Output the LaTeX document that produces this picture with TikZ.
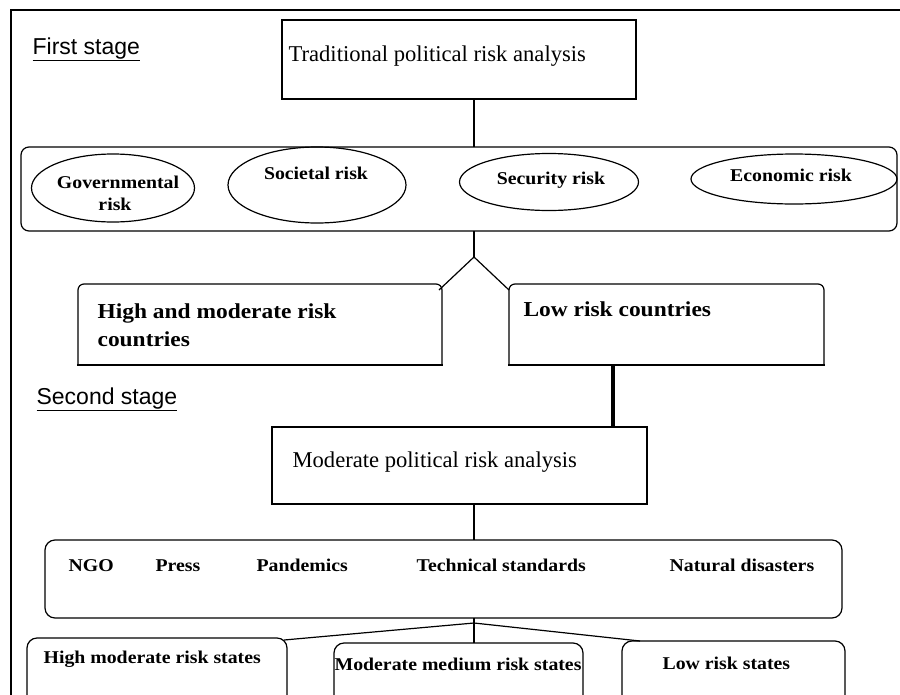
\documentclass[tikz,border=0pt]{standalone}
\usepackage{fontspec}
\setmainfont{Liberation Serif}
\setsansfont{Liberation Sans}
\newfontfamily\bsf[FakeStretch=1.1]{Liberation Serif}
\usetikzlibrary{shapes.geometric,calc}
\begin{document}
\begin{tikzpicture}[x=1pt,y=-1pt,
  line width=1.2pt,
  box/.style={draw, rectangle, inner sep=0pt, outer sep=0pt, anchor=north west},
  plainbox/.style={rectangle, inner sep=0pt, outer sep=0pt, anchor=north west},
  oval/.style={draw, ellipse, inner sep=0pt, outer sep=0pt},
  stagelbl/.style={anchor=base west, inner sep=0pt, font=\sffamily\fontsize{23}{26}\selectfont},
  reglbl/.style={anchor=base west, inner sep=0pt, font=\rmfamily\fontsize{22.6}{25}\selectfont},
  biglbl/.style={anchor=base west, inner sep=0pt, font=\bsf\bfseries\fontsize{21.3}{24}\selectfont},
  smllbl/.style={anchor=base, inner sep=0pt, font=\bsf\bfseries\fontsize{18}{21}\selectfont},
  smlw/.style={anchor=base west, inner sep=0pt, font=\bsf\bfseries\fontsize{18}{21}\selectfont},
  conn/.style={draw, line width=1.2pt},
  thickconn/.style={draw, line width=4.5pt}
]
\useasboundingbox (0,0) rectangle (900,694);
\fill[white] (0,0) rectangle (900,694);
% outer frame
\draw[line width=1.3pt] (11,720) -- (11,10) -- (920,10);

% labels of stages
\node[stagelbl] (s1) at (32,54) {\underline{First stage}};
\node[stagelbl] (s2) at (36,404) {\underline{Second stage}};

% first stage
\node[box, minimum width=354pt, minimum height=79pt] (trad) at (282,20) {};
\node[reglbl] (tradt) at (288,61) {Traditional political risk analysis};

\node[box, rounded corners=8pt, minimum width=876pt, minimum height=84pt] (grp) at (21,147) {};
\node[oval, minimum width=163pt, minimum height=68pt] (gov) at (113,188) {};
\node[oval, minimum width=178pt, minimum height=76pt] (soc) at (317,185) {};
\node[oval, minimum width=179pt, minimum height=57pt] (sec) at (549,182) {};
\node[oval, minimum width=206pt, minimum height=50pt] (eco) at (794,179) {};
\node[smllbl] (govt1) at (118,188) {Governmental};
\node[smllbl] (govt2) at (115,210) {risk};
\node[smllbl] (soct) at (316,179) {Societal risk};
\node[smllbl] (sect) at (551,184) {Security risk};
\node[smllbl] (ecot) at (791,181) {Economic risk};

\coordinate (cx) at (474,0);
\coordinate (br1) at (474,257);
\coordinate (thx) at (613,0);

\node[plainbox, minimum width=364pt, minimum height=81pt] (hm) at (78,284) {};
\node[plainbox, minimum width=315pt, minimum height=81pt] (low) at (509,284) {};
\draw[rounded corners=6pt] (hm.south west) -- (hm.north west) -- (hm.north east) -- (hm.south east);
\draw[line cap=rect] (hm.south west) -- (hm.south east);
\draw[rounded corners=6pt] (low.south west) -- (low.north west) -- (low.north east) -- (low.south east);
\draw[line cap=rect] (low.south west) -- (low.south east);
\node[biglbl] (hmt1) at (97,318) {High and moderate risk};
\node[biglbl] (hmt2) at (97,346) {countries};
\node[biglbl] (lowt) at (523,316) {Low risk countries};

\draw[conn] (trad.south -| cx) -- (grp.north -| cx);
\draw[conn] (grp.south -| cx) -- (br1);
\draw[conn] (br1) -- ($(hm.north east)+(-3,6)$);
\draw[conn] (br1) -- ($(low.north west)+(0,6)$);

% second stage
\node[box, minimum width=375pt, minimum height=77pt] (mod) at (272,427) {};
\node[reglbl] (modt) at (292,467) {Moderate political risk analysis};
\draw[thickconn] (low.south -| thx) -- (mod.north -| thx);

\node[box, rounded corners=10pt, minimum width=797pt, minimum height=78pt] (ngo) at (45,540) {};
\node[smlw] (f1) at (68,571) {NGO};
\node[smlw] (f2) at (155,571) {Press};
\node[smlw] (f3) at (256,571) {Pandemics};
\node[smlw] (f4) at (416,571) {Technical standards};
\node[smlw] (f5) at (669,571) {Natural disasters};
\draw[conn] (mod.south -| cx) -- (ngo.north -| cx);

\node[box, rounded corners=10pt, minimum width=260pt, minimum height=75pt] (hms) at (27,638) {};
\node[box, rounded corners=10pt, minimum width=249pt, minimum height=75pt] (mms) at (334,643) {};
\node[box, rounded corners=10pt, minimum width=223pt, minimum height=75pt] (lrs) at (622,641) {};
\node[smlw] (hmst) at (43,663) {High moderate risk states};
\node[smlw] (mmst) at (334,670) {Moderate medium risk states};
\node[smlw] (lrst) at (662,669) {Low risk states};

\coordinate (br2) at (474,623);
\draw[conn] (ngo.south -| cx) -- (mms.north -| cx);
\draw[conn] (br2) -- ($(hms.north east)+(-3,2)$);
\draw[conn] (br2) -- ($(lrs.north west)+(18,0)$);
\end{tikzpicture}
\end{document}
